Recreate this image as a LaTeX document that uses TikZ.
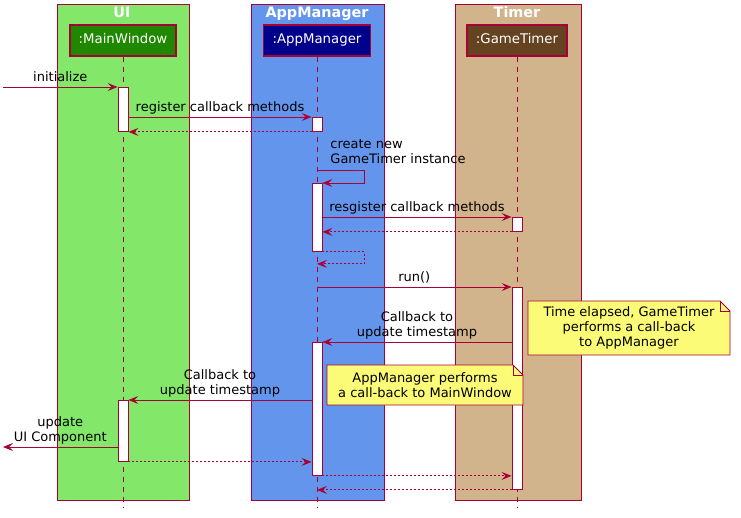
\documentclass[tikz,border=0pt]{standalone}
\usepackage{fontspec}
\setmainfont{DejaVu Sans}
\usetikzlibrary{arrows.meta, calc, positioning}
\definecolor{umlred}{HTML}{A80036}
\definecolor{uigreen}{RGB}{131,232,106}
\definecolor{appblue}{RGB}{100,149,237}
\definecolor{timertan}{RGB}{210,180,140}
\definecolor{mwgreen}{RGB}{32,136,0}
\definecolor{amblue}{RGB}{0,0,139}
\definecolor{gtbrown}{RGB}{101,67,33}
\definecolor{noteyellow}{HTML}{FBFB77}
\tikzset{
  lane/.style={draw=umlred, line width=1pt},
  lanetitle/.style={text=white, anchor=base, font=\fontsize{14.4}{17}\selectfont\bfseries},
  actor/.style={draw=umlred, line width=1.2pt, text=white, minimum height=31pt, inner sep=0pt,
    text height=10pt, text depth=3pt, font=\fontsize{13.3}{15}\selectfont},
  lifeline/.style={umlred, dash pattern=on 5pt off 5pt, line width=0.8pt},
  actbar/.style={draw=umlred, fill=white, minimum width=10pt, inner sep=0pt, line width=0.9pt, anchor=north},
  msg/.style={umlred, line width=0.9pt, -{Stealth[length=10pt, width=8pt, inset=4pt]}},
  ret/.style={msg, dash pattern=on 2pt off 2pt},
  lbl/.style={text=black, font=\fontsize{13}{15}\selectfont, align=center, inner sep=0pt,
    text depth=3pt, above=2pt},
  notebox/.style={draw=umlred, fill=noteyellow, line width=0.9pt},
  notetext/.style={text=black, font=\fontsize{13}{15}\selectfont, align=center, inner sep=0pt},
}
\begin{document}
\begin{tikzpicture}[x=1pt, y=-1pt]
  \useasboundingbox (0,0) rectangle (741,518);

  % Swimlanes
  \draw[lane, fill=uigreen] (57,5) rectangle (189,500);
  \draw[lane, fill=appblue] (251,5) rectangle (384,500);
  \draw[lane, fill=timertan] (455,5) rectangle (581,500);
  \node[lanetitle] (uiT) at (122,18) {UI};
  \node[lanetitle] (amT) at (317,18) {AppManager};
  \node[lanetitle] (tmT) at (517,18) {Timer};

  % Participants
  \node[actor, fill=mwgreen, minimum width=106pt] (mw) at (123,40.5) {:MainWindow};
  \node[actor, fill=amblue, minimum width=107pt] (am) at (317,40.5) {:AppManager};
  \node[actor, fill=gtbrown, minimum width=100pt] (gt) at (517,40.5) {:GameTimer};

  % Lifelines
  \draw[lifeline] (mw.south) -- (mw.south |- 0,508);
  \draw[lifeline] (am.south) -- (am.south |- 0,508);
  \draw[lifeline] (gt.south) -- (gt.south |- 0,508);

  % Activation bars
  \node[actbar, minimum height=44pt] (mwA1) at (123,87) {};
  \node[actbar, minimum height=14pt] (amA1) at (317,117) {};
  \node[actbar, minimum height=68pt] (amA2) at (317,183) {};
  \node[actbar, minimum height=14pt] (gtA1) at (517,217) {};
  \node[actbar, minimum height=202pt] (gtA2) at (517,287) {};
  \node[actbar, minimum height=133pt] (amA3) at (317,342) {};
  \node[actbar, minimum height=61pt] (mwA2) at (123,400) {};

  \coordinate (in) at (3,87);
  \coordinate (out) at (3,447);

  % Messages
  \draw[msg] (in) -- (mwA1.north west) node[lbl, midway] {initialize};
  \draw[msg] (mwA1.east |- amA1.north) -- (amA1.north west) node[lbl, midway] {register callback methods};
  \draw[ret] (amA1.south west) -- (mwA1.south east);
  \draw[msg] (amA2.north |- 0,170) node[lbl, align=left, above right=3pt and 13pt] {create new\\GameTimer instance}
    -| ($(amA2.north east)+(42,0)$) -- (amA2.north east);
  \draw[msg] (amA2.east |- gtA1.north) -- (gtA1.north west) node[lbl, midway] {resgister callback methods};
  \draw[ret] (gtA1.south west) -- (amA2.east |- gtA1.south);
  \draw[ret] (amA2.south east) -- ++(42,0) -- ++(0,12) -- ($(amA2.south)+(0,12)$);
  \draw[msg] (amA2.south |- gtA2.north) -- (gtA2.north west) node[lbl, midway] {run()};
  \draw[msg] (gtA2.west |- amA3.north) -- (amA3.north east) node[lbl, midway] {Callback to\\update timestamp};
  \draw[msg] (amA3.west |- mwA2.north) -- (mwA2.north east) node[lbl, midway] {Callback to\\update timestamp};
  \draw[msg] (mwA2.west |- 0,447) -- (out) node[lbl, midway] {update\\UI Component};
  \draw[ret] (mwA2.south east) -- (amA3.west |- mwA2.south);
  \draw[ret] (amA3.south east) -- (gtA2.west |- amA3.south);
  \draw[ret] (gtA2.south west) -- (amA3.south |- gtA2.south);

  % Notes
  \draw[notebox] (528,301) -- (720,301) -- (730,311) -- (730,355) -- (528,355) -- cycle;
  \draw[umlred, line width=0.9pt] (720,301) -- (720,311) -- (730,311);
  \node[notetext] (note1) at (629,328) {Time elapsed, GameTimer\\performs a call-back\\to AppManager};
  \draw[notebox] (327,365) -- (513,365) -- (523,375) -- (523,405) -- (327,405) -- cycle;
  \draw[umlred, line width=0.9pt] (513,365) -- (513,375) -- (523,375);
  \node[notetext] (note2) at (425,385) {AppManager performs\\a call-back to MainWindow};
\end{tikzpicture}
\end{document}
